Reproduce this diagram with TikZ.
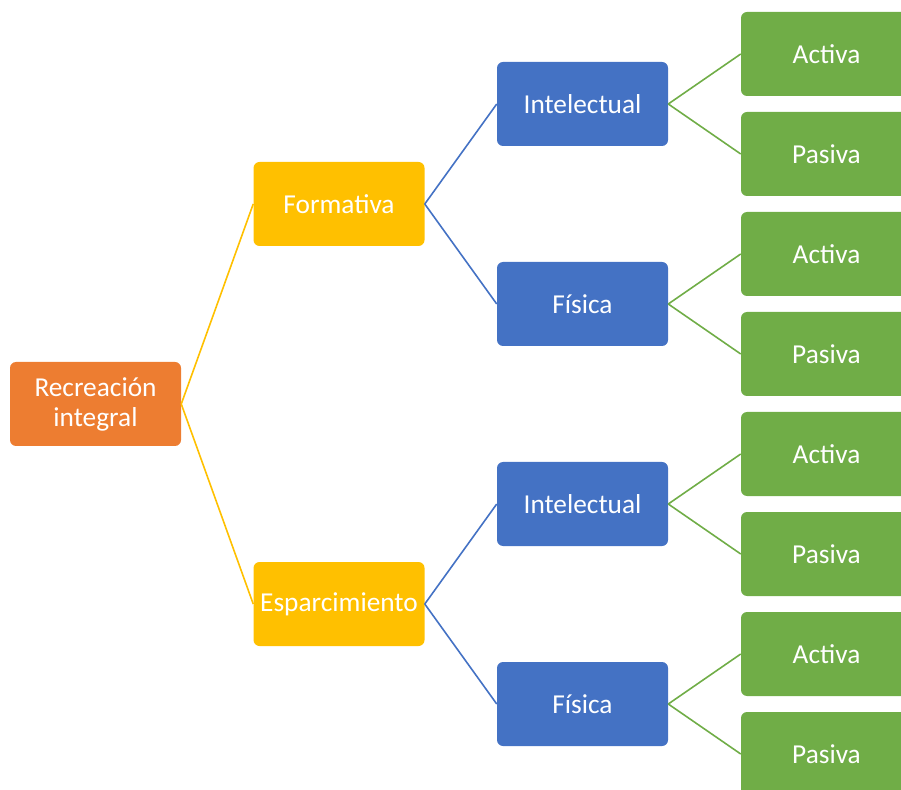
\documentclass[tikz,border=0pt]{standalone}
\usepackage{fontspec}
\setmainfont{Carlito}

\definecolor{recorange}{HTML}{ED7D31}
\definecolor{recyellow}{HTML}{FFC000}
\definecolor{recblue}{HTML}{4472C4}
\definecolor{recgreen}{HTML}{70AD47}

\tikzset{
	box/.style={rounded corners=4.5pt, minimum width=128.25pt, minimum height=63pt,
		inner sep=0pt, text=white, align=center, font=\fontsize{20.5}{22.5}\selectfont},
	orangebox/.style={box, fill=recorange},
	yellowbox/.style={box, fill=recyellow},
	bluebox/.style={box, fill=recblue},
	greenbox/.style={box, fill=recgreen},
	yline/.style={recyellow, line width=1.2pt},
	bline/.style={recblue, line width=1.2pt},
	gline/.style={recgreen, line width=1.2pt}
}

\begin{document}
\begin{tikzpicture}[x=75pt, y=75pt]
	\clip (0, 0) rectangle (9.01, 7.89);

	% root
	\node[orangebox] (rec) at (0.955, 3.85) {Recreación\\integral};

	% second level
	\node[yellowbox] (form) at (3.39, 5.85) {Formativa};
	\node[yellowbox] (espa) at (3.39, 1.85) {Esparcimiento};

	% third level
	\node[bluebox] (int1) at (5.825, 6.85) {Intelectual};
	\node[bluebox] (fis1) at (5.825, 4.85) {Física};
	\node[bluebox] (int2) at (5.825, 2.85) {Intelectual};
	\node[bluebox] (fis2) at (5.825, 0.85) {Física};

	% leaves
	\node[greenbox] (act1) at (8.265, 7.35) {Activa};
	\node[greenbox] (pas1) at (8.265, 6.35) {Pasiva};
	\node[greenbox] (act2) at (8.265, 5.35) {Activa};
	\node[greenbox] (pas2) at (8.265, 4.35) {Pasiva};
	\node[greenbox] (act3) at (8.265, 3.35) {Activa};
	\node[greenbox] (pas3) at (8.265, 2.35) {Pasiva};
	\node[greenbox] (act4) at (8.265, 1.35) {Activa};
	\node[greenbox] (pas4) at (8.265, 0.35) {Pasiva};

	% connectors
	\draw[yline] (rec.east) -- (form.west);
	\draw[yline] (rec.east) -- (espa.west);

	\draw[bline] (form.east) -- (int1.west);
	\draw[bline] (form.east) -- (fis1.west);
	\draw[bline] (espa.east) -- (int2.west);
	\draw[bline] (espa.east) -- (fis2.west);

	\draw[gline] (int1.east) -- (act1.west);
	\draw[gline] (int1.east) -- (pas1.west);
	\draw[gline] (fis1.east) -- (act2.west);
	\draw[gline] (fis1.east) -- (pas2.west);
	\draw[gline] (int2.east) -- (act3.west);
	\draw[gline] (int2.east) -- (pas3.west);
	\draw[gline] (fis2.east) -- (act4.west);
	\draw[gline] (fis2.east) -- (pas4.west);
\end{tikzpicture}
\end{document}
